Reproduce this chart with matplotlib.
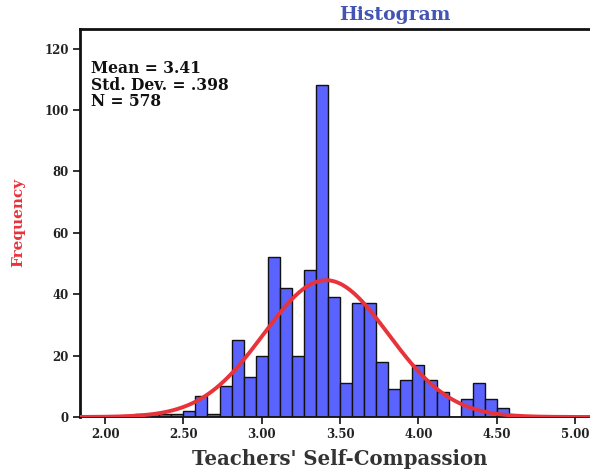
import numpy as np
import matplotlib
matplotlib.use('Agg')
import matplotlib.pyplot as plt

# Histogram data (bin width = 2/26)
bin_centers = [2.231, 2.308, 2.385, 2.462, 2.538, 2.615, 2.692, 2.769, 2.846, 2.923,
               3.000, 3.077, 3.154, 3.231, 3.308, 3.385, 3.462, 3.538, 3.615, 3.692,
               3.769, 3.846, 3.923, 4.000, 4.077, 4.154, 4.231, 4.308, 4.385, 4.462,
               4.538]
counts = [1, 1, 1, 1, 2, 7, 1, 10, 25, 13,
          20, 52, 42, 20, 48, 108, 39, 11, 37, 37,
          18, 9, 12, 17, 12, 8, 0, 6, 11, 6,
          3]
bin_width = 2 / 26

mean_val = 3.41
sd_val = 0.398
n_val = 578

x_ticks = [2.0, 2.5, 3.0, 3.5, 4.0, 4.5, 5.0]
x_ticklabels = ['2.00', '2.50', '3.00', '3.50', '4.00', '4.50', '5.00']
y_ticks = [0, 20, 40, 60, 80, 100, 120]

serif = ['DejaVu Serif']

fig = plt.figure(figsize=(5.9, 4.7), dpi=100)
ax = fig.add_axes([80 / 590, 53 / 470, 520 / 590, 388 / 470])

ax.bar(bin_centers, counts, width=bin_width, color='#5b63fe',
       edgecolor='#111111', linewidth=1.0, zorder=2)

# normal curve from the reported stats
xs = np.linspace(1.84, 5.2, 400)
ys = n_val * bin_width / (sd_val * np.sqrt(2 * np.pi)) * np.exp(-0.5 * ((xs - mean_val) / sd_val) ** 2)
ax.plot(xs, ys, color='#e8333a', linewidth=2.8, zorder=3, solid_capstyle='round')

ax.set_xlim(1.84, 5.159)
ax.set_ylim(0, 126.4)

ax.set_xticks(x_ticks)
ax.set_xticklabels(x_ticklabels)
ax.set_yticks(y_ticks)
for lab in ax.get_xticklabels() + ax.get_yticklabels():
    lab.set_family(serif)
    lab.set_fontweight('bold')
    lab.set_fontsize(8.5)
    lab.set_color('#222222')
ax.tick_params(direction='out', length=5, width=1.3, color='#222222', pad=3)

for side in ['left', 'top']:
    ax.spines[side].set_linewidth(2.0)
    ax.spines[side].set_color('#111111')
ax.spines['bottom'].set_linewidth(1.3)
ax.spines['bottom'].set_color('#111111')
ax.spines['right'].set_visible(False)

# stats box text
fig.text(91 / 590, 1 - 60 / 470,
         'Mean = 3.41\nStd. Dev. = .398\nN = 578',
         family=serif, fontweight='bold', fontsize=11.2, color='#111111',
         va='top', ha='left', linespacing=0.97)

fig.text(395 / 590, 1 - 15 / 470, 'Histogram', family=serif, fontweight='bold',
         fontsize=13.5, color='#4254b4', ha='center', va='center')
fig.text(340 / 590, 1 - 459 / 470, "Teachers' Self-Compassion", family=serif,
         fontweight='bold', fontsize=14.2, color='#333333', ha='center', va='center')
fig.text(18 / 590, 1 - 222 / 470, 'Frequency', family=serif, fontweight='bold',
         fontsize=11, color='#e8333a', ha='center', va='center', rotation=90)

fig.savefig('out.png', dpi=100)
